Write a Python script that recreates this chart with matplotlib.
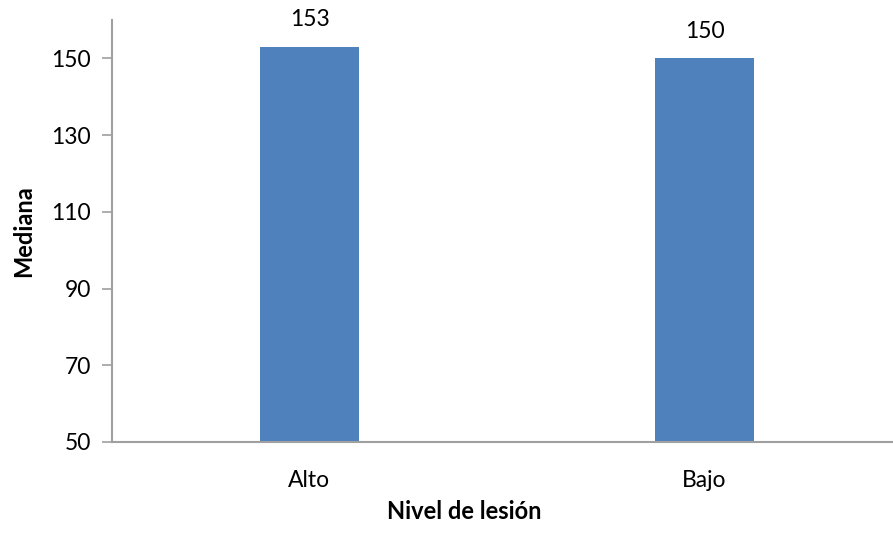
import matplotlib
matplotlib.use("Agg")
import matplotlib.pyplot as plt

categories = ["Alto", "Bajo"]
values = [153, 150]
yticks = [50, 70, 90, 110, 130, 150]

plt.rcParams['font.family'] = ['Lato', 'DejaVu Sans']

fig = plt.figure(figsize=(8.93, 5.33), dpi=100)
ax = fig.add_axes([112/893, 1-442/533, (902-112)/893, (442-20)/533])

x = list(range(len(categories)))
bars = ax.bar(x, [v - 50 for v in values], bottom=50, width=0.25, color="#4f81bd")
for xi, v in zip(x, values):
    ax.annotate(f"{v}", (xi, v), xytext=(0, 12), textcoords="offset points",
                ha="center", va="bottom", fontsize=16.5)

ax.set_xlim(-0.5, 1.5)
ax.set_ylim(50, 160)
ax.set_yticks(yticks)
ax.set_xticks(x)
ax.set_xticklabels(categories, fontsize=16.5)
ax.tick_params(axis='y', labelsize=16.5, length=7, width=1.2, color="#a0a0a0", pad=8)
ax.tick_params(axis='x', length=0, pad=20)
for s in ["top", "right"]:
    ax.spines[s].set_visible(False)
for s in ["left", "bottom"]:
    ax.spines[s].set_color("#a0a0a0")
    ax.spines[s].set_linewidth(1.5)
ax.set_ylabel("Mediana", fontsize=17, fontweight="bold")
ax.yaxis.set_label_coords(-(112-35)/790, 0.5)
ax.set_xlabel("Nivel de lesión", fontsize=17, fontweight="bold")
ax.xaxis.set_label_coords((464-112)/790, -(500-442)/422)

fig.savefig("out.png", dpi=100)
